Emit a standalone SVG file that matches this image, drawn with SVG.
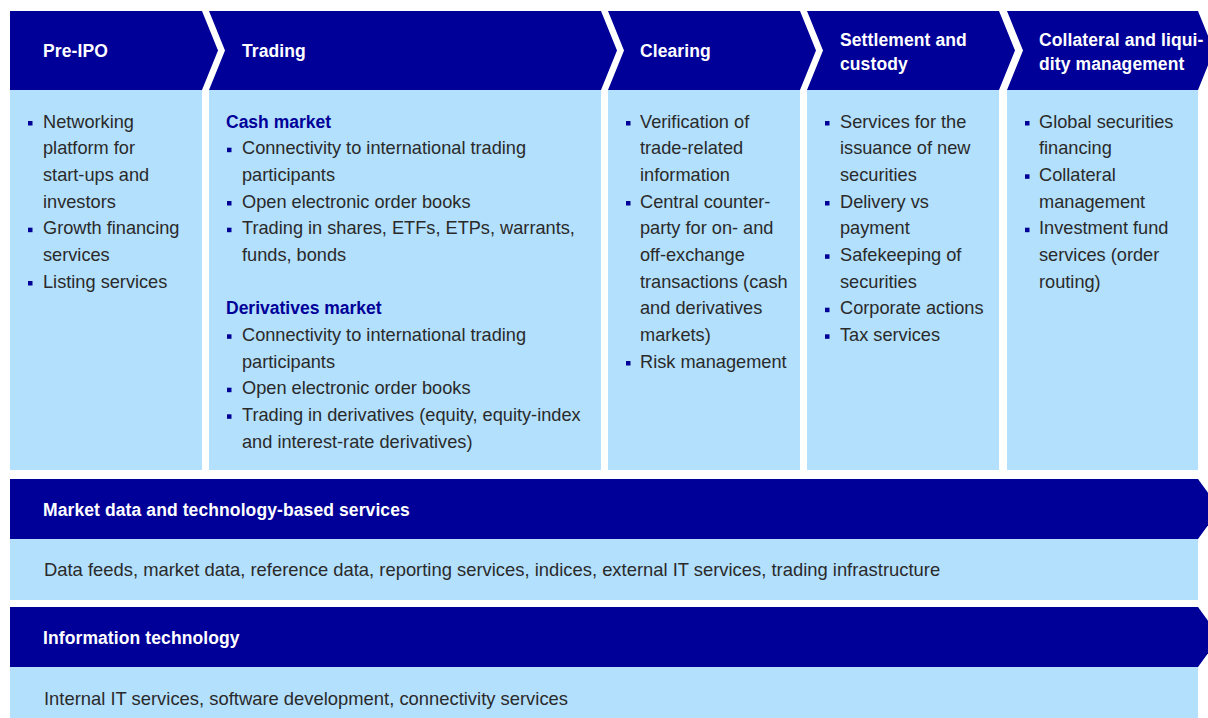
<svg xmlns="http://www.w3.org/2000/svg" width="1208" height="718" viewBox="0 0 1208 718">
<style>
.hdr{fill:#000099}
.box{fill:#b3e0fd}
.ht{font-family:"Liberation Sans",Arial,sans-serif;font-weight:bold;font-size:17.5px;fill:#ffffff;letter-spacing:0.1px}
.bt{font-family:"Liberation Sans",Arial,sans-serif;font-size:18.2px;fill:#2a2a2a}
.wide{font-size:18.4px}
.sub{font-family:"Liberation Sans",Arial,sans-serif;font-weight:bold;font-size:17.5px;fill:#000099}
.bul{fill:#000099}
</style>
<rect width="1208" height="718" fill="#ffffff"/>
<g id="connectors"/>
<g id="pre-ipo">
  <polygon class="hdr" points="10,11 202,11 218,50.5 202,90 10,90"/>
  <rect class="box" x="10" y="90" width="192" height="380"/>
  <text class="ht" x="43" y="57.3">Pre-IPO</text>
  <rect class="bul" x="28" y="121" width="4.5" height="4.5"/>
  <text class="bt" x="43" y="127.5">Networking</text>
  <text class="bt" x="43" y="154.2">platform for</text>
  <text class="bt" x="43" y="180.8">start-ups and</text>
  <text class="bt" x="43" y="207.5">investors</text>
  <rect class="bul" x="28" y="227.7" width="4.5" height="4.5"/>
  <text class="bt" x="43" y="234.2">Growth financing</text>
  <text class="bt" x="43" y="260.8">services</text>
  <rect class="bul" x="28" y="281" width="4.5" height="4.5"/>
  <text class="bt" x="43" y="287.5">Listing services</text>
</g>
<g id="trading">
  <polygon class="hdr" points="209,11 601,11 617,50.5 601,90 209,90 225,50.5"/>
  <rect class="box" x="209" y="90" width="392" height="380"/>
  <text class="ht" x="242" y="57.3">Trading</text>
  <text class="sub" x="226" y="127.5">Cash market</text>
  <rect class="bul" x="227" y="147.7" width="4.5" height="4.5"/>
  <text class="bt" x="242" y="154.2">Connectivity to international trading</text>
  <text class="bt" x="242" y="180.8">participants</text>
  <rect class="bul" x="227" y="201" width="4.5" height="4.5"/>
  <text class="bt" x="242" y="207.5">Open electronic order books</text>
  <rect class="bul" x="227" y="227.7" width="4.5" height="4.5"/>
  <text class="bt" x="242" y="234.2">Trading in shares, ETFs, ETPs, warrants,</text>
  <text class="bt" x="242" y="260.8">funds, bonds</text>
  <text class="sub" x="226" y="314.2">Derivatives market</text>
  <rect class="bul" x="227" y="334.3" width="4.5" height="4.5"/>
  <text class="bt" x="242" y="340.8">Connectivity to international trading</text>
  <text class="bt" x="242" y="367.5">participants</text>
  <rect class="bul" x="227" y="387.7" width="4.5" height="4.5"/>
  <text class="bt" x="242" y="394.2">Open electronic order books</text>
  <rect class="bul" x="227" y="414.3" width="4.5" height="4.5"/>
  <text class="bt" x="242" y="420.8">Trading in derivatives (equity, equity-index</text>
  <text class="bt" x="242" y="447.5">and interest-rate derivatives)</text>
</g>
<g id="clearing">
  <polygon class="hdr" points="608,11 800,11 816,50.5 800,90 608,90 624,50.5"/>
  <rect class="box" x="608" y="90" width="192" height="380"/>
  <text class="ht" x="640" y="57.3">Clearing</text>
  <rect class="bul" x="626" y="121" width="4.5" height="4.5"/>
  <text class="bt" x="640" y="127.5">Verification of</text>
  <text class="bt" x="640" y="154.2">trade-related</text>
  <text class="bt" x="640" y="180.8">information</text>
  <rect class="bul" x="626" y="201" width="4.5" height="4.5"/>
  <text class="bt" x="640" y="207.5">Central counter-</text>
  <text class="bt" x="640" y="234.2">party for on- and</text>
  <text class="bt" x="640" y="260.8">off-exchange</text>
  <text class="bt" x="640" y="287.5">transactions (cash</text>
  <text class="bt" x="640" y="314.2">and derivatives</text>
  <text class="bt" x="640" y="340.8">markets)</text>
  <rect class="bul" x="626" y="361" width="4.5" height="4.5"/>
  <text class="bt" x="640" y="367.5">Risk management</text>
</g>
<g id="settlement">
  <polygon class="hdr" points="807,11 999,11 1015,50.5 999,90 807,90 823,50.5"/>
  <rect class="box" x="807" y="90" width="192" height="380"/>
  <text class="ht" x="840" y="46">Settlement and</text>
  <text class="ht" x="840" y="69.5">custody</text>
  <rect class="bul" x="825" y="121" width="4.5" height="4.5"/>
  <text class="bt" x="840" y="127.5">Services for the</text>
  <text class="bt" x="840" y="154.2">issuance of new</text>
  <text class="bt" x="840" y="180.8">securities</text>
  <rect class="bul" x="825" y="201" width="4.5" height="4.5"/>
  <text class="bt" x="840" y="207.5">Delivery vs</text>
  <text class="bt" x="840" y="234.2">payment</text>
  <rect class="bul" x="825" y="254.3" width="4.5" height="4.5"/>
  <text class="bt" x="840" y="260.8">Safekeeping of</text>
  <text class="bt" x="840" y="287.5">securities</text>
  <rect class="bul" x="825" y="307.7" width="4.5" height="4.5"/>
  <text class="bt" x="840" y="314.2">Corporate actions</text>
  <rect class="bul" x="825" y="334.3" width="4.5" height="4.5"/>
  <text class="bt" x="840" y="340.8">Tax services</text>
</g>
<g id="collateral">
  <polygon class="hdr" points="1007,11 1198,11 1214,50.5 1198,90 1007,90 1023,50.5"/>
  <rect class="box" x="1007" y="90" width="191" height="380"/>
  <text class="ht" x="1039" y="46">Collateral and liqui-</text>
  <text class="ht" x="1039" y="69.5">dity management</text>
  <rect class="bul" x="1025" y="121" width="4.5" height="4.5"/>
  <text class="bt" x="1039" y="127.5">Global securities</text>
  <text class="bt" x="1039" y="154.2">financing</text>
  <rect class="bul" x="1025" y="174.3" width="4.5" height="4.5"/>
  <text class="bt" x="1039" y="180.8">Collateral</text>
  <text class="bt" x="1039" y="207.5">management</text>
  <rect class="bul" x="1025" y="227.7" width="4.5" height="4.5"/>
  <text class="bt" x="1039" y="234.2">Investment fund</text>
  <text class="bt" x="1039" y="260.8">services (order</text>
  <text class="bt" x="1039" y="287.5">routing)</text>
</g>
<g id="market-data">
  <polygon class="hdr" points="10,479 1198,479 1220,509 1198,539 10,539"/>
  <rect class="box" x="10" y="539" width="1188" height="61"/>
  <text class="ht" x="43" y="515.5">Market data and technology-based services</text>
  <text class="bt wide" x="44" y="576">Data feeds, market data, reference data, reporting services, indices, external IT services, trading infrastructure</text>
</g>
<g id="information-technology">
  <polygon class="hdr" points="10,607 1198,607 1220,637 1198,667 10,667"/>
  <rect class="box" x="10" y="667" width="1188" height="51"/>
  <text class="ht" x="43" y="643.5">Information technology</text>
  <text class="bt wide" x="44" y="705">Internal IT services, software development, connectivity services</text>
</g>
</svg>
